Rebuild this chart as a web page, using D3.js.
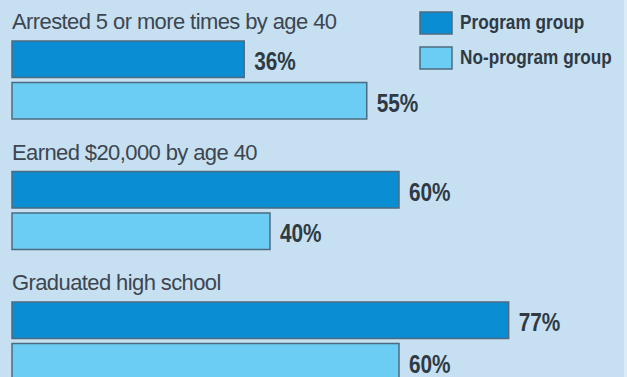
<!DOCTYPE html>
<html>
<head>
<meta charset="utf-8">
<script src="https://cdn.jsdelivr.net/npm/d3@7"></script>
<style>
  body { margin: 0; padding: 0; background: #c6e0f2; }
  .cat-title { font-family: "Liberation Sans", Arial, sans-serif; font-size: 22px; letter-spacing: -0.6px; fill: #3d4650; }
  .val-label { font-family: "Liberation Sans", Arial, sans-serif; font-weight: bold; font-size: 26px; fill: #2f3a44; }
  .legend-label { font-family: "Liberation Sans", Arial, sans-serif; font-weight: bold; font-size: 20px; fill: #2f3a44; }
</style>
</head>
<body>
<div id="chart"></div>
<script>
var CATEGORIES = ["Arrested 5 or more times by age 40", "Earned $20,000 by age 40", "Graduated high school"];
var SERIES = ["Program group", "No-program group"];
var PROGRAM = [36, 60, 77];
var NO_PROGRAM = [55, 40, 60];
var COLORS = ["#0a8dd3", "#6bcdf3"];

var width = 627, height = 377;
var LABEL_SQUEEZE = 0.8, LEGEND_SQUEEZE = 0.86;

var svg = d3.select("#chart").append("svg")
    .attr("width", width)
    .attr("height", height);

svg.append("rect")
    .attr("width", width)
    .attr("height", height)
    .attr("fill", "#c6e0f2");

// lighter edge on the right side of the panel
svg.append("rect")
    .attr("x", 624)
    .attr("width", 3)
    .attr("height", height)
    .attr("fill", "#dcecf7");

var data = CATEGORIES.map(function(c, i) {
  return { category: c, values: [PROGRAM[i], NO_PROGRAM[i]] };
});

var xScale = d3.scaleLinear().domain([0, 100]).range([12, 657]);
var groupScale = d3.scaleBand().domain(CATEGORIES).range([0, 391.5]);
var barScale = d3.scaleBand().domain(SERIES).range([41, 119]).paddingInner(0.12);
var color = d3.scaleOrdinal().domain(SERIES).range(COLORS);

var group = svg.selectAll(".group")
    .data(data)
    .enter().append("g")
    .attr("class", "group")
    .attr("transform", function(d) { return "translate(0," + groupScale(d.category) + ")"; });

group.append("text")
    .attr("class", "cat-title")
    .attr("x", 12)
    .attr("y", 29)
    .text(function(d) { return d.category; });

var bar = group.selectAll(".bar")
    .data(function(d) {
      return d.values.map(function(v, i) { return { series: SERIES[i], value: v }; });
    })
    .enter().append("g")
    .attr("class", "bar");

bar.append("rect")
    .attr("x", xScale(0))
    .attr("y", function(d) { return barScale(d.series); })
    .attr("width", function(d) { return xScale(d.value) - xScale(0); })
    .attr("height", barScale.bandwidth())
    .attr("fill", function(d) { return color(d.series); })
    .attr("stroke", "#4d6b80")
    .attr("stroke-width", 1.5);

// condensed look: squeeze the bold labels horizontally
bar.append("text")
    .attr("class", "val-label")
    .attr("transform", function(d) {
      var x = xScale(d.value) + 10,
          y = barScale(d.series) + barScale.bandwidth() / 2 + 11;
      return "translate(" + x + "," + y + ") scale(" + LABEL_SQUEEZE + ",1)";
    })
    .text(function(d) { return d.value + "%"; });

// legend
var legend = svg.selectAll(".legend")
    .data(SERIES)
    .enter().append("g")
    .attr("class", "legend")
    .attr("transform", function(d, i) { return "translate(420," + (12 + i * 35) + ")"; });

legend.append("rect")
    .attr("width", 32)
    .attr("height", 22)
    .attr("fill", function(d) { return color(d); })
    .attr("stroke", "#4d6b80")
    .attr("stroke-width", 1.5);

legend.append("text")
    .attr("class", "legend-label")
    .attr("transform", "translate(40,17) scale(" + LEGEND_SQUEEZE + ",1)")
    .text(function(d) { return d; });
</script>
</body>
</html>
